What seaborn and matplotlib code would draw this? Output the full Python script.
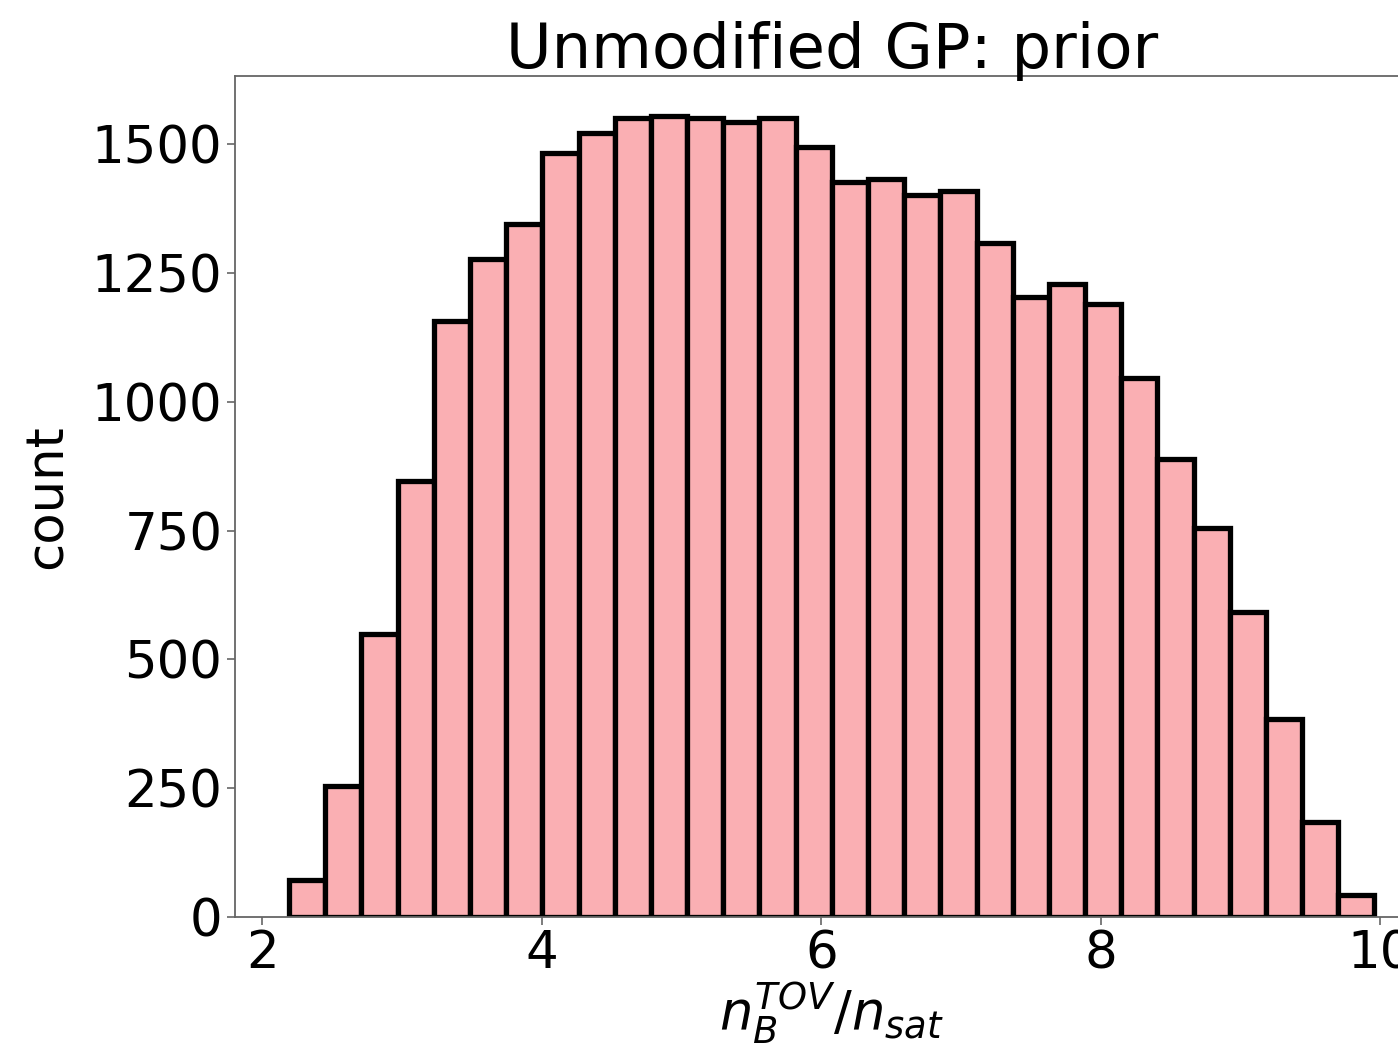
import numpy as np
import pandas as pd
import matplotlib
matplotlib.use("Agg")
import matplotlib.pyplot as plt
import seaborn as sns

# bin edges (data units)
bin_start = 2.193
bin_stop = 9.957
n_bins = 30
counts = [72, 255, 550, 847, 1156, 1278, 1346, 1482, 1521, 1550,
          1554, 1550, 1543, 1550, 1494, 1426, 1432, 1401, 1410, 1309,
          1203, 1228, 1189, 1047, 888, 754, 591, 385, 185, 43]
title = "Unmodified GP: prior"
xlabel = r"$n_B^{TOV}/n_{sat}$"
ylabel = "count"
xticks = [2, 4, 6, 8, 10]
yticks = [0, 250, 500, 750, 1000, 1250, 1500]

edges = np.linspace(bin_start, bin_stop, n_bins + 1)
centers = (edges[:-1] + edges[1:]) / 2
df = pd.DataFrame({"x": centers, "w": counts})

sns.set_style("white")
plt.rcParams['font.family'] = ['DejaVu Sans']
plt.rcParams['text.color'] = 'black'
plt.rcParams['axes.labelcolor'] = 'black'
plt.rcParams['xtick.color'] = 'black'
plt.rcParams['ytick.color'] = 'black'

fig = plt.figure(figsize=(13.98, 10.6), dpi=100)
ax = fig.add_axes([0.168, 0.135, 0.854, 0.793])
sns.histplot(data=df, x="x", weights="w", bins=n_bins,
             binrange=(bin_start, bin_stop), ax=ax,
             color="#FAAFB3", alpha=1.0, edgecolor="black", linewidth=3.8)

ax.set_xticks(xticks)
ax.set_yticks(yticks)
ax.tick_params(axis="both", labelsize=37, length=6, width=1.2,
               color="#666666", labelcolor="black", direction="out",
               bottom=True, left=True, pad=3)
for s in ax.spines.values():
    s.set_color("#666666")
    s.set_linewidth(1.3)
ax.set_xlabel(xlabel, fontsize=38, labelpad=0, color="black")
ax.set_ylabel(ylabel, fontsize=37, labelpad=14, color="black")
ax.set_title(title, fontsize=45, pad=6, color="black")
ax.margins(x=0.05)
fig.savefig("out.png", dpi=100)
